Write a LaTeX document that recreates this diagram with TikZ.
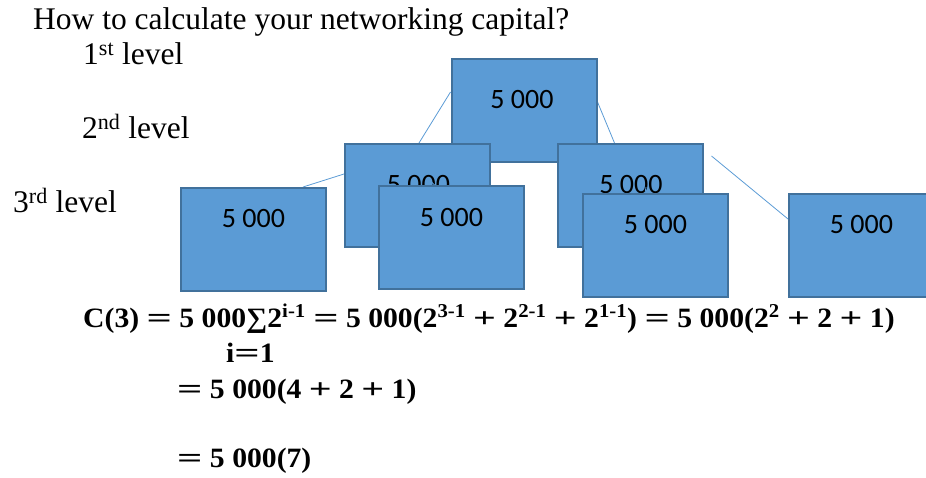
\documentclass[tikz,border=0pt]{standalone}
\usepackage{fontspec}
\usepackage{graphicx}
\setmainfont{Liberation Serif}
\newfontfamily\boxfont{Carlito}
\usetikzlibrary{calc}
\pgfdeclarelayer{bg}
\pgfdeclarelayer{mid}
\pgfdeclarelayer{front}
\pgfsetlayers{bg,main,mid,front}
\definecolor{boxfill}{HTML}{5B9BD5}
\definecolor{boxline}{HTML}{41719C}
\newcommand\feq{\scalebox{1.5}[1]{=}}
\newcommand\fpl{\scalebox{1.35}[1]{+}}
\newcommand\fsup[1]{\textsuperscript{#1}}
\newcommand\fwide[1]{\scalebox{1.06}[1]{#1}}
\tikzset{
  box/.style={draw=boxline, fill=boxfill, line width=2pt, minimum width=145pt, minimum height=103pt, inner sep=0pt},
  num/.style={font=\boxfont\fontsize{28}{30}\selectfont, anchor=base, inner sep=0pt},
  conn/.style={draw=boxfill, line width=0.8pt},
  lbl/.style={font=\fontsize{31.5}{36}\selectfont, anchor=base west, inner sep=0pt},
  frm/.style={font=\fontsize{28}{34}\selectfont\bfseries, anchor=base west, inner sep=0pt}
}
\begin{document}
\begin{tikzpicture}[x=1pt,y=-1pt]
\useasboundingbox (0,0) rectangle (926,478);
\clip (0,0) rectangle (926,478);
% titles
\node[lbl] (title) at (33,30) {How to calculate your networking capital?};
\node[lbl] (lv1) at (83,65) {1\textsuperscript{st} level};
\node[lbl] (lv2) at (82,139) {2\textsuperscript{nd} level};
\node[lbl] (lv3) at (13,213) {3\textsuperscript{rd} level};
% level 1
\node[box] (top) at (524,110.5) {};
\node[num] (ttop) at ($(top.north)+(-2,51)$) {5 000};
% level 2
\node[box] (l2a) at (417.5,195.5) {};
\node[num] (tl2a) at ($(l2a.north)+(1,51)$) {5 000};
\node[box] (l2b) at (630,195.5) {};
\node[num] (tl2b) at ($(l2b.north)+(1,51)$) {5 000};
% level 3
\begin{pgfonlayer}{front}
\node[box] (lA) at (253.5,239.5) {};
\node[num] (tA) at ($(lA.north)+(0,41)$) {5 000};
\node[box] (lB) at (451.5,238) {};
\node[num] (tB) at ($(lB.north)+(0,41)$) {5 000};
\node[box] (lC) at (655.5,245.5) {};
\node[num] (tC) at ($(lC.north)+(0,41)$) {5 000};
\node[box] (lD) at (861.5,245.5) {};
\node[num] (tD) at ($(lD.north)+(0,41)$) {5 000};
\end{pgfonlayer}
% connectors
\begin{pgfonlayer}{bg}
\draw[conn] ($(top.north west)+(0,34)$) -- ($(l2a.north west)+(75,0)$);
\draw[conn] ($(top.north east)+(0,44)$) -- ($(l2b.north west)+(58,0)$);
\draw[conn] ($(l2a.north west)+(0,31)$) -- ($(lA.north west)+(123,0)$);
\coordinate (s1) at ($(l2b.north east)+(8,13)$);
\draw[conn] (s1) -- ($(lD.north west)+(0,26)$);
\end{pgfonlayer}
\begin{pgfonlayer}{mid}
\draw[conn] ($(lB.north west)+(50,-7)$) -- ($(lB.north west)+(57,0)$);
\draw[conn] ($(lC.north west)+(64,-6)$) -- ($(lC.north west)+(63,0)$);
\end{pgfonlayer}
% formula
\node[frm] (f1) at (83,327) {\fwide{C(3) \feq{} 5 000∑2\fsup{i-1} \feq{} 5 000(2\fsup{3-1} \fpl{} 2\fsup{2-1} \fpl{} 2\fsup{1-1}) \feq{} 5 000(2\fsup{2} \fpl{} 2 \fpl{} 1)}};
\node[frm] (f2) at (226,362) {\fwide{i\feq1}};
\node[frm] (f3) at (177,398) {\fwide{\feq{} 5 000(4 \fpl{} 2 \fpl{} 1)}};
\node[frm] (f4) at (177,467) {\fwide{\feq{} 5 000(7)}};
\end{tikzpicture}
\end{document}
